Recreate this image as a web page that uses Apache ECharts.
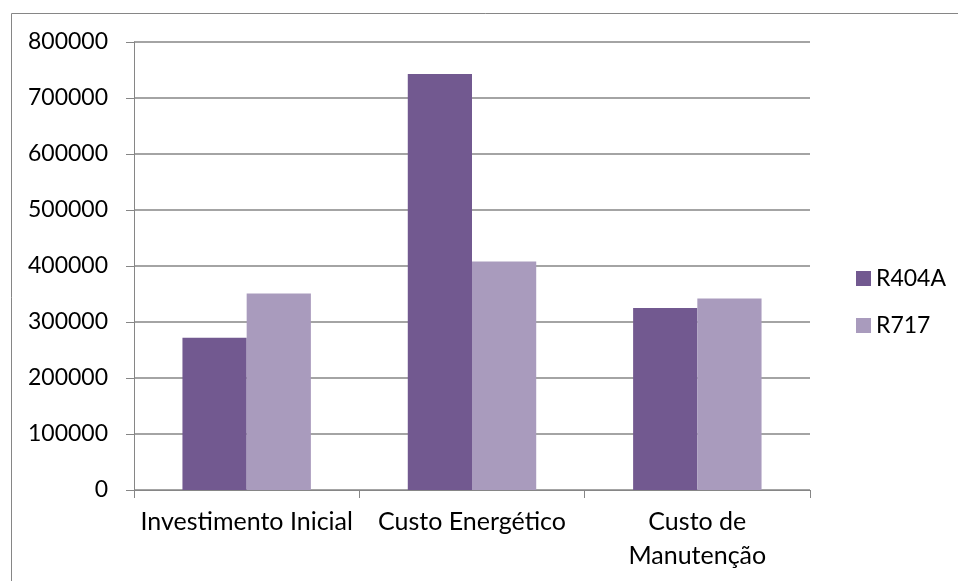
<!DOCTYPE html>
<html>
<head>
<meta charset="utf-8">
<script src="https://cdn.jsdelivr.net/npm/echarts@6/dist/echarts.min.js"></script>
<style>
html,body{margin:0;padding:0;background:#fff;}
#chart{width:958px;height:581px;}
</style>
</head>
<body>
<div id="chart"></div>
<script>
const categories = ['Investimento Inicial', 'Custo Energético', 'Custo de Manutenção'];
const seriesNames = ['R404A', 'R717'];
const r404a = [272000, 743000, 325000];
const r717 = [351000, 408000, 342000];
const yTicks = { min: 0, max: 800000, interval: 100000 };

const FONT = 'Lato';
const AXIS_GRAY = '#868686';

const chart = echarts.init(document.getElementById('chart'), null, { renderer: 'canvas' });
chart.setOption({
  animation: false,
  backgroundColor: '#ffffff',
  textStyle: { fontFamily: FONT },
  graphic: [{
    type: 'rect',
    shape: { x: 11.5, y: 13.5, width: 1200, height: 1200 },
    style: { fill: 'none', stroke: AXIS_GRAY, lineWidth: 1 },
    silent: true
  }],
  grid: { left: 134, right: 148, top: 42, bottom: 91, containLabel: false },
  legend: {
    orient: 'vertical',
    left: 851,
    top: 262,
    itemWidth: 15,
    itemHeight: 15,
    itemGap: 24,
    icon: 'rect',
    textStyle: { fontFamily: FONT, fontSize: 23, color: '#000' },
    data: seriesNames
  },
  xAxis: {
    type: 'category',
    data: categories,
    boundaryGap: true,
    axisLine: { show: true, lineStyle: { color: AXIS_GRAY, width: 1 } },
    axisTick: { show: true, length: 8, alignWithLabel: false, lineStyle: { color: AXIS_GRAY } },
    axisLabel: {
      interval: 0,
      fontFamily: FONT, fontSize: 25, color: '#000', margin: 15, lineHeight: 34,
      formatter: function (v) { return v.replace('Custo de ', 'Custo de\n'); }
    }
  },
  yAxis: {
    type: 'value',
    min: yTicks.min,
    max: yTicks.max,
    interval: yTicks.interval,
    axisLine: { show: true, lineStyle: { color: AXIS_GRAY, width: 1 } },
    axisTick: { show: true, length: 8, lineStyle: { color: AXIS_GRAY } },
    axisLabel: {
      fontFamily: FONT, fontSize: 23, color: '#000', margin: 26,
      formatter: function (v) { return String(v); }
    },
    splitLine: { show: true, lineStyle: { color: AXIS_GRAY, width: 1.5 } }
  },
  series: [
    {
      name: seriesNames[0], type: 'bar', data: r404a,
      barGap: '0%', barCategoryGap: '43%',
      itemStyle: { color: '#725990' }
    },
    {
      name: seriesNames[1], type: 'bar', data: r717,
      barGap: '0%', barCategoryGap: '43%',
      itemStyle: { color: '#A99BBD' }
    }
  ]
});
</script>
</body>
</html>
